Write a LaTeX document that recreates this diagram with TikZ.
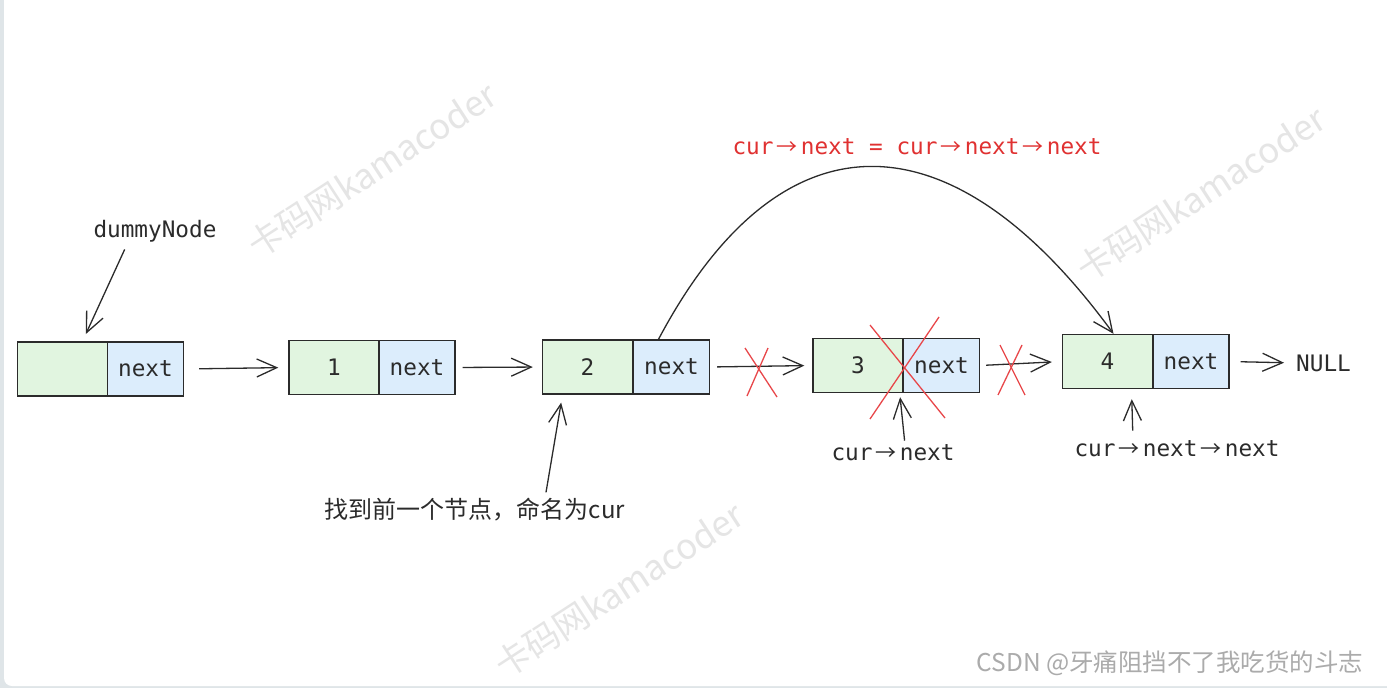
\documentclass[tikz,border=0pt]{standalone}
\usepackage{fontspec}
\setmonofont{DejaVu Sans Mono}
\newfontfamily\cjk{Noto Sans CJK SC}
\usetikzlibrary{arrows.meta}
\definecolor{ink}{HTML}{2B2B2B}
\definecolor{gfill}{HTML}{E1F5E0}
\definecolor{bfill}{HTML}{DCEDFC}
\definecolor{redx}{HTML}{E8474A}
\definecolor{redt}{HTML}{E03131}
\definecolor{edge}{HTML}{DFE5E8}
\newcommand\rarr{\makebox[1.204em]{\cjk\fontsize{21}{24}\selectfont →}}
\tikzset{
  gbox/.style={draw=ink, line width=1.4pt, fill=gfill, minimum width=90pt, minimum height=54pt, inner sep=0pt,
    font=\ttfamily\fontsize{22.7}{26}\selectfont, text=ink},
  bbox/.style={draw=ink, line width=1.4pt, fill=bfill, minimum width=76pt, minimum height=54pt, inner sep=0pt,
    font=\ttfamily\fontsize{22.7}{26}\selectfont, text=ink},
  lbl/.style={font=\ttfamily\fontsize{22.7}{26}\selectfont, text=ink, inner sep=0pt},
  conn/.style={draw=ink, line width=1.3pt, -{Straight Barb[length=20pt,width=18pt,line width=1.3pt]}},
  crossx/.style={draw=redx, line width=1.3pt},
  wmark/.style={font=\cjk\fontsize{35}{40}\selectfont, text=black!10, rotate=33, inner sep=0pt},
}
\begin{document}
\begin{tikzpicture}[x=1pt,y=-1pt]
\useasboundingbox (0,0) rectangle (1387,688);
\fill[edge] (0,0) rectangle (1387,688);
\fill[white, rounded corners=8pt] (4,-20) rectangle (1400,686);

% watermarks
\node[wmark] (w1) at (372,170) {卡码网kamacoder};
\node[wmark] (w2) at (1201,194) {卡码网kamacoder};
\node[wmark] (w3) at (619,590) {卡码网kamacoder};
\node[font=\cjk\fontsize{24.5}{28}\selectfont, text=black!33, inner sep=0pt] (csdn) at (1170,663) {CSDN @牙痛阻挡不了我吃货的斗志};

% list nodes
\node[gbox] (g0) at (62.5,369) {};
\node[bbox] (b0) at (145.5,369) {next};
\node[gbox] (g1) at (334,367.5) {1};
\node[bbox] (b1) at (417,367.5) {next};
\node[gbox] (g2) at (587.5,367) {2};
\node[bbox] (b2) at (671.5,367) {next};
\node[gbox] (g3) at (858,365.5) {3};
\node[bbox] (b3) at (941.5,365.5) {next};
\node[gbox] (g4) at (1107.5,361.5) {4};
\node[bbox] (b4) at (1191,361.5) {next};
\node[lbl, anchor=west] (null) at (1296,363) {NULL};

% links
\draw[conn, shorten <=15pt, shorten >=10pt] (b0.east) -- (g1.west);
\draw[conn, shorten <=7pt, shorten >=9pt] (b1.east) -- (g2.west);
\draw[conn, shorten <=7pt, shorten >=8pt] (b2.east) -- (g3.west);
\draw[conn, shorten <=6pt, shorten >=10pt] (b3.east) -- (g4.west);
\draw[conn, shorten <=11pt, shorten >=12pt] (b4.east) -- (null.west);

% red crosses
\draw[crossx] (745,348) -- (777,397);
\draw[crossx] (768,348) -- (747,396);
\draw[crossx] (1000,345) -- (1025,395);
\draw[crossx] (1022,345) -- (998,395);
\draw[crossx] (870,325) -- (945,418);
\draw[crossx] (939,317) -- (870,419);

% labels
\node[lbl] (dl) at (155,231) {dummyNode};
\draw[conn, shorten <=8pt, shorten >=8pt] ([xshift=-27pt]dl.south) -- ([xshift=20pt]g0.north);

\node[font=\cjk\fontsize{24}{28}\selectfont, text=ink, inner sep=0pt] (cl) at (475,510) {找到前一个节点，命名为cur};
\draw[conn, shorten <=6pt, shorten >=8pt] ([xshift=70pt]cl.north) -- ([xshift=-25pt]g2.south);

\node[lbl] (cn) at (893,453) {cur\rarr next};
\draw[conn, shorten <=4pt, shorten >=4pt] ([xshift=12pt]cn.north) -- ([xshift=-4pt]g3.south east);

\node[lbl] (cnn) at (1177,449) {cur\rarr next\rarr next};
\draw[conn, shorten <=10pt, shorten >=10pt] ([xshift=-44pt]cnn.north) -- ([xshift=24pt]g4.south);

\node[lbl, text=redt] (title) at (917,147) {cur\rarr next = cur\rarr next\rarr next};

% curve
\draw[conn] ([xshift=-13pt]b2.north) .. controls (780,110) and (950,110) .. ([xshift=6pt]g4.north);
\end{tikzpicture}
\end{document}
